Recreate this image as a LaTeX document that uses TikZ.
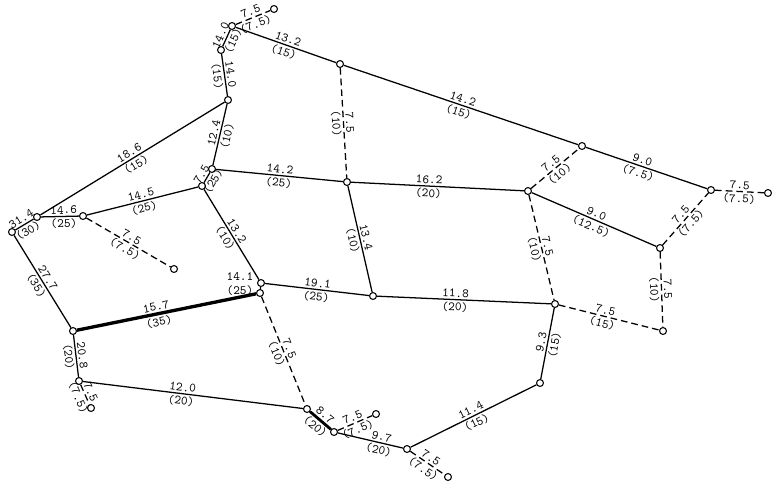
\documentclass[tikz,border=0pt]{standalone}
\begin{document}
\begin{tikzpicture}[x=0.75pt,y=-0.75pt,
  vtx/.style={circle,draw,fill=white,line width=0.8pt,inner sep=0pt,minimum size=5.2pt},
  road/.style={line width=0.95pt},
  dsh/.style={line width=0.95pt,dash pattern=on 5pt off 3pt},
  lab/.style={font=\fontsize{9.5}{10}\selectfont\ttfamily,inner sep=1.3pt,sloped},
  up/.style={lab,above},
  dn/.style={lab,below},
  flat/.style={font=\fontsize{9.5}{10}\selectfont\ttfamily,inner sep=1pt,align=center}]
\useasboundingbox (0,0) rectangle (778,487);
% vertices
\node[vtx] (A) at (232,26) {};
\node[vtx] (Al) at (274,9) {};
\node[vtx] (B) at (221,50) {};
\node[vtx] (C) at (228,100) {};
\node[vtx] (D) at (340,64) {};
\node[vtx] (E) at (212,169) {};
\node[vtx] (F) at (202,186) {};
\node[vtx] (G) at (347,182) {};
\node[vtx] (H) at (261,283) {};
\node[vtx] (H2) at (260,293) {};
\node[vtx] (I) at (373,296) {};
\node[vtx] (J) at (528,191) {};
\node[vtx] (K) at (555,304) {};
\node[vtx] (L) at (582,146) {};
\node[vtx] (M) at (711,190) {};
\node[vtx] (Ml) at (768,193) {};
\node[vtx] (N) at (660,248) {};
\node[vtx] (O) at (663,331) {};
\node[vtx] (P) at (540,383) {};
\node[vtx] (Q) at (407,449) {};
\node[vtx] (Ql) at (448,477) {};
\node[vtx] (R) at (334,432) {};
\node[vtx] (Rl) at (376,414) {};
\node[vtx] (S) at (307,409) {};
\node[vtx] (T) at (79,381) {};
\node[vtx] (Tl) at (91,408) {};
\node[vtx] (U) at (73,331) {};
\node[vtx] (V) at (12,232) {};
\node[vtx] (W) at (37,217) {};
\node[vtx] (X) at (83,216) {};
\node[vtx] (Y) at (174,269) {};
% solid links
\draw[road] (A) -- node[up]{14.0} node[dn]{(15)} (B);
\draw[road] (A) -- node[up]{13.2} node[dn]{(15)} (D);
\draw[road] (D) -- node[up]{14.2} node[dn]{(15)} (L);
\draw[road] (L) -- node[up,pos=0.45]{9.0} node[dn,pos=0.45]{(7.5)} (M);
\draw[road] (B) -- node[up]{14.0} node[dn]{(15)} (C);
\draw[road] (C) -- node[up]{18.6} node[dn]{(15)} (W);
\draw[road] (C) -- node[up]{12.4} node[dn]{(10)} (E);
\draw[road] (E) -- node[up]{14.2} node[dn]{(25)} (G);
\draw[road] (G) -- node[up,pos=0.45]{16.2} node[dn,pos=0.45]{(20)} (J);
\draw[road] (J) -- node[up]{9.0} node[dn]{(12.5)} (N);
\draw[road] (G) -- node[up]{13.4} node[dn]{(10)} (I);
\draw[road] (I) -- node[up,pos=0.45]{11.8} node[dn,pos=0.45]{(20)} (K);
\draw[road] (K) -- node[up]{9.3} node[dn]{(15)} (P);
\draw[road] (P) -- node[up]{11.4} node[dn]{(15)} (Q);
\draw[road] (R) -- node[up,pos=0.65]{9.7} node[dn,pos=0.65]{(20)} (Q);
\draw[line width=2.1pt] (S) -- node[up]{8.7} node[dn]{(20)} (R);
\draw[road] (T) -- node[up,pos=0.45]{12.0} node[dn,pos=0.45]{(20)} (S);
\draw[road] (U) -- node[up]{20.8} node[dn]{(20)} (T);
\draw[line width=2.5pt] (U) -- node[up,pos=0.45]{15.7} node[dn,pos=0.45]{(35)} (H2);
\draw[road] (V) -- node[up]{27.7} node[dn]{(35)} (U);
\draw[road] (V) -- node[up]{31.4} node[dn]{(30)} (W);
\draw[road] (W) -- node[up,pos=0.6]{14.6} node[dn,pos=0.6]{(25)} (X);
\draw[road] (X) -- node[up]{14.5} node[dn]{(25)} (F);
\draw[road] (E) -- node[up]{7.5} node[dn]{(25)} (F);
\draw[road] (F) -- node[up]{13.2} node[dn]{(10)} (H);
\draw[road] (H) -- node[up]{19.1} node[dn]{(25)} (I);
\draw[road] (H) -- node[flat,left=4pt,yshift=3pt]{14.1\\(25)} (H2);
% dashed links
\draw[dsh] (A) -- node[up]{7.5} node[dn]{(7.5)} (Al);
\draw[dsh] (M) -- node[up]{7.5} node[dn]{(7.5)} (Ml);
\draw[dsh] (D) -- node[up]{7.5} node[dn]{(10)} (G);
\draw[dsh] (J) -- node[up]{7.5} node[dn]{(10)} (L);
\draw[dsh] (N) -- node[up]{7.5} node[dn]{(7.5)} (M);
\draw[dsh] (N) -- node[up]{7.5} node[dn]{(10)} (O);
\draw[dsh] (J) -- node[up]{7.5} node[dn]{(10)} (K);
\draw[dsh] (K) -- node[up,pos=0.45]{7.5} node[dn,pos=0.45]{(15)} (O);
\draw[dsh] (Q) -- node[up]{7.5} node[dn]{(7.5)} (Ql);
\draw[dsh] (R) -- node[up]{7.5} node[dn]{(7.5)} (Rl);
\draw[dsh] (T) -- node[up]{7.5} node[dn]{(7.5)} (Tl);
\draw[dsh] (X) -- node[up]{7.5} node[dn]{(7.5)} (Y);
\draw[dsh] (H2) -- node[up]{7.5} node[dn]{(10)} (S);
\end{tikzpicture}
\end{document}
